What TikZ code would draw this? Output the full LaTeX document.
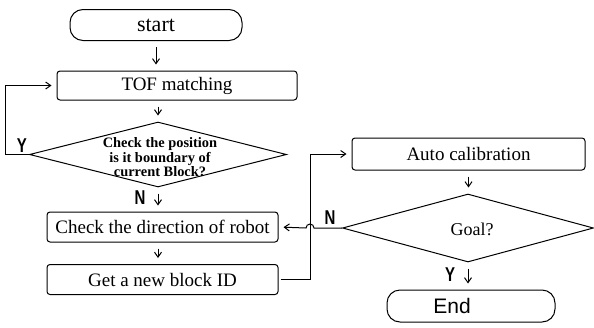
\documentclass[tikz,border=0pt]{standalone}
\usepackage{fontspec}
\setmainfont{Liberation Serif}
\newfontfamily\arialfont{Liberation Sans}
\usepackage{graphicx}
\usepackage{tikz}
\usetikzlibrary{shapes.geometric,arrows.meta}

\begin{document}
\begin{tikzpicture}[x=0.5pt,y=-0.5pt,
  box/.style={draw,rounded corners=1.5pt,line width=0.5pt,inner sep=0pt,
    minimum height=15pt,font=\fontsize{9.5}{11}\selectfont},
  term/.style={draw,rounded corners=6.5pt,line width=0.5pt,inner sep=0pt,
    minimum width=85pt,minimum height=16pt},
  decision/.style={draw,diamond,line width=0.5pt,inner sep=0pt},
  yn/.style={font=\arialfont\bfseries\fontsize{10}{11}\selectfont,inner sep=0pt},
  line/.style={line width=0.5pt,-{Straight Barb[length=2.5pt,width=3.5pt]},shorten >=2.5pt},
  down/.style={line,shorten <=3pt,shorten >=3pt}]
\useasboundingbox (0,0) rectangle (594,327);

% left column
\node[term,minimum width=86pt,minimum height=15.5pt,font=\fontsize{11}{13}\selectfont] (start) at (156,25) {start};
\node[box,minimum width=120pt,minimum height=14.5pt] (tof) at (177,85.5) {TOF matching};
\node[decision,minimum width=128.5pt,minimum height=32.5pt] (chk) at (158,154.5) {};
\node[align=center,inner sep=0pt,font=\bfseries\fontsize{7.2}{7.3}\selectfont] (chktxt) at (160,157.5)
  {Check the position\\is it boundary of\\current Block?};
\node[box,minimum width=115.5pt] (dir) at (162.5,227) {Check the direction of robot};
\node[box,minimum width=115.5pt] (blk) at (162.5,279.5) {Get a new block ID};

% right column
\node[box,minimum width=116.5pt,minimum height=16pt] (auto) at (468.5,154) {Auto calibration};
\node[decision,minimum width=125.5pt,minimum height=34pt] (goal) at (468,228) {};
\node[inner sep=0pt,font=\fontsize{9}{11}\selectfont] (goaltxt) at (472,229) {Goal?};
\node[term,minimum width=84pt] (end) at (471,306) {};
\node[inner sep=0pt,font=\arialfont\fontsize{10.5}{12}\selectfont] (endtxt) at (452,306) {End};

% Y / N marks
\node[yn] (y1) at (22,146) {\scalebox{.75}[1]{Y}};
\node[yn] (n1) at (140,198) {\scalebox{.75}[1]{N}};
\node[yn] (n2) at (330,218) {\scalebox{.75}[1]{N}};
\node[yn] (y2) at (450,275) {\scalebox{.75}[1]{Y}};

\coordinate (jog) at (310,154);

% connectors
\draw[down] (start.south) -- (start.south |- tof.north);
\draw[down] (tof.south -| chk.north) -- (chk.north);
\draw[down] (chk.south) -- (chk.south |- dir.north);
\draw[down] (dir.south -| chk.south) -- (chk.south |- blk.north);
\draw[line] (chk.west) -- ++(-24,0) |- (tof.west);
\draw[line,shorten <=1pt] (blk.east) -| (jog) -- (auto.west);
\draw[line] (goal.west) -- ([xshift=2pt]jog |- goal.west)
  arc[start angle=0,end angle=180,radius=2pt] -- (dir.east);
\draw[down] (auto.south) -- (auto.south |- goal.north);
\draw[down] (goal.south) -- (goal.south |- end.north);
\end{tikzpicture}
\end{document}
